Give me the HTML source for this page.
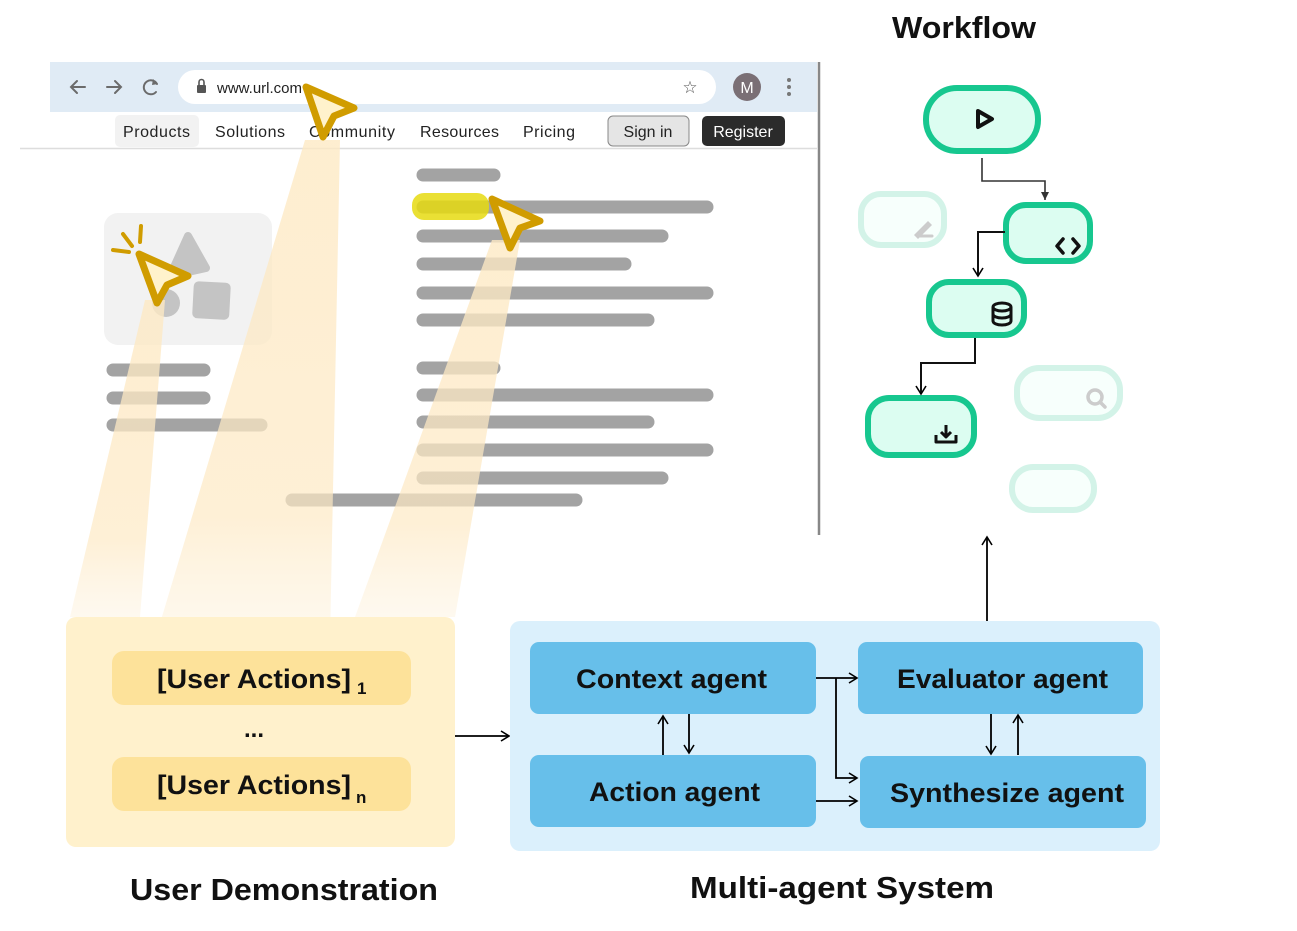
<!DOCTYPE html>
<html><head><meta charset="utf-8"><style>
html,body{margin:0;padding:0;background:#fff;}
svg{display:block;font-family:"Liberation Sans",sans-serif;}
</style></head><body>
<svg width="1297" height="931" viewBox="0 0 1297 931" xmlns="http://www.w3.org/2000/svg">
<defs>
<linearGradient id="beam" x1="0" y1="0" x2="0" y2="1">
<stop offset="0" stop-color="#fde9c4" stop-opacity="0.8"/>
<stop offset="0.75" stop-color="#fde9c4" stop-opacity="0.7"/>
<stop offset="1" stop-color="#fdf0d8" stop-opacity="0.4"/>
</linearGradient>
<marker id="ah" markerWidth="12" markerHeight="12" refX="10" refY="6" orient="auto" markerUnits="userSpaceOnUse">
<path d="M2,1 L10,6 L2,11" fill="none" stroke="#000" stroke-width="1.6"/>
</marker>
<marker id="ah2" markerWidth="10" markerHeight="10" refX="8" refY="5" orient="auto" markerUnits="userSpaceOnUse">
<path d="M0,1 L8,5 L0,9 Z" fill="#333"/>
</marker>
</defs>

<!-- browser -->
<rect x="50" y="62" width="767" height="50" fill="#e0ebf5"/>
<rect x="178" y="70" width="538" height="34" rx="17" fill="#fff"/>
<g stroke="#6b6b6b" stroke-width="2" fill="none" stroke-linecap="round">
<path d="M85,87 H71 M77,81 L71,87 L77,93"/>
<path d="M107,87 H121 M115,81 L121,87 L115,93"/>
<path d="M157,84 A7,7 0 1 0 156,92"/>
</g>
<path d="M153,79 L158,84 L152,85 Z" fill="#6b6b6b"/>
<rect x="197" y="85" width="9" height="8" rx="1" fill="#555"/>
<path d="M199,85 V82 A2.5,2.5 0 0 1 204,82 V85" stroke="#555" stroke-width="1.6" fill="none"/>
<text x="217" y="93" font-size="15" fill="#222">www.url.com</text>
<text x="690" y="93" font-size="17" fill="#555" text-anchor="middle">☆</text>
<circle cx="747" cy="87" r="14" fill="#7a6f75"/>
<text x="747" y="93" font-size="16" fill="#fff" text-anchor="middle">M</text>
<g fill="#777"><circle cx="789" cy="80" r="2"/><circle cx="789" cy="87" r="2"/><circle cx="789" cy="94" r="2"/></g>
<rect x="115" y="115" width="84" height="32" rx="5" fill="#f2f2f2"/>
<g font-size="16" fill="#222">
<text x="123" y="137" textLength="67">Products</text>
<text x="215" y="137" textLength="70">Solutions</text>
<text x="309" y="137" textLength="86">Community</text>
<text x="420" y="137" textLength="79">Resources</text>
<text x="523" y="137" textLength="52">Pricing</text>
</g>
<rect x="608" y="116" width="81" height="30" rx="5" fill="#e5e5e5" stroke="#888" stroke-width="1"/>
<text x="648" y="137" font-size="16" fill="#222" text-anchor="middle">Sign in</text>
<rect x="702" y="116" width="83" height="30" rx="5" fill="#2b2b2b"/>
<text x="743" y="137" font-size="16" fill="#fff" text-anchor="middle">Register</text>
<line x1="20" y1="148.5" x2="817" y2="148.5" stroke="#ddd" stroke-width="1.5"/>
<line x1="819" y1="62" x2="819" y2="535" stroke="#888" stroke-width="2.5"/>

<!-- image card -->
<rect x="104" y="213" width="168" height="132" rx="14" fill="#f2f2f2"/>
<path d="M188,236 L170,276 L206,268 Z" fill="#c4c4c4" stroke="#c4c4c4" stroke-width="8" stroke-linejoin="round"/>
<rect x="193" y="282" width="37" height="37" rx="5" fill="#c4c4c4" transform="rotate(3 211 300)"/>
<circle cx="166" cy="303" r="14" fill="#c4c4c4"/>

<!-- gray bars -->
<g stroke="#a3a3a3" stroke-width="13" stroke-linecap="round">
<line x1="423" y1="175" x2="494" y2="175"/>
<line x1="423" y1="207" x2="707" y2="207"/>
<line x1="423" y1="236" x2="662" y2="236"/>
<line x1="423" y1="264" x2="625" y2="264"/>
<line x1="423" y1="293" x2="707" y2="293"/>
<line x1="423" y1="320" x2="648" y2="320"/>
<line x1="423" y1="368" x2="494" y2="368"/>
<line x1="423" y1="395" x2="707" y2="395"/>
<line x1="423" y1="422" x2="648" y2="422"/>
<line x1="423" y1="450" x2="707" y2="450"/>
<line x1="423" y1="478" x2="662" y2="478"/>
<line x1="292" y1="500" x2="576" y2="500"/>
<line x1="113" y1="370" x2="204" y2="370"/>
<line x1="113" y1="398" x2="204" y2="398"/>
<line x1="113" y1="425" x2="261" y2="425"/>
</g>
<rect x="412" y="193" width="77" height="27" rx="12" fill="#e6da10" opacity="0.85"/>

<!-- beams -->
<path d="M305,140 L340,140 L330,640 L155,640 Z" fill="url(#beam)"/>
<path d="M145,300 L165,300 L140,617 L70,617 Z" fill="url(#beam)"/>
<path d="M492,240 L520,240 L455,617 L355,617 Z" fill="url(#beam)"/>

<!-- cursors -->
<g fill="#fff2cc" stroke="#d09c00" stroke-width="7" stroke-linejoin="round">
<path d="M306,87 L354,108 L334,116 L323,137 Z"/>
<path d="M139,254 L188,276 L167,285 L157,303 Z"/>
<path d="M492,199 L540,221 L520,228 L510,248 Z"/>
</g>
<g stroke="#d09c00" stroke-width="4" stroke-linecap="round">
<line x1="141" y1="226" x2="140" y2="242"/>
<line x1="123" y1="234" x2="132" y2="246"/>
<line x1="113" y1="250" x2="129" y2="252"/>
</g>

<!-- demonstration -->
<rect x="66" y="617" width="389" height="230" rx="10" fill="#fff1cc"/>
<rect x="112" y="651" width="299" height="54" rx="12" fill="#fde29a"/>
<rect x="112" y="757" width="299" height="54" rx="12" fill="#fde29a"/>
<g font-size="27" fill="#111" font-weight="600">
<text x="157" y="688" textLength="194" lengthAdjust="spacingAndGlyphs">[User Actions]</text>
<text x="157" y="794" textLength="194" lengthAdjust="spacingAndGlyphs">[User Actions]</text>
</g>
<text x="357" y="694" font-size="17" font-weight="700" fill="#111">1</text>
<text x="356" y="803" font-size="17" font-weight="700" fill="#111">n</text>
<text x="254" y="737" font-size="24" font-weight="700" fill="#111" text-anchor="middle">...</text>
<text x="130" y="900" font-size="31" font-weight="600" fill="#111" textLength="308" lengthAdjust="spacingAndGlyphs">User Demonstration</text>

<line x1="455" y1="736" x2="509" y2="736" stroke="#000" stroke-width="1.8" marker-end="url(#ah)"/>

<!-- MAS -->
<rect x="510" y="621" width="650" height="230" rx="10" fill="#dbf0fc"/>
<g fill="#67bfea">
<rect x="530" y="642" width="286" height="72" rx="9"/>
<rect x="530" y="755" width="286" height="72" rx="9"/>
<rect x="858" y="642" width="285" height="72" rx="9"/>
<rect x="860" y="756" width="286" height="72" rx="9"/>
</g>
<g font-size="27" font-weight="600" fill="#111" lengthAdjust="spacingAndGlyphs">
<text x="576" y="688" textLength="191" lengthAdjust="spacingAndGlyphs">Context agent</text>
<text x="589" y="801" textLength="171" lengthAdjust="spacingAndGlyphs">Action agent</text>
<text x="897" y="688" textLength="211" lengthAdjust="spacingAndGlyphs">Evaluator agent</text>
<text x="890" y="802" textLength="234" lengthAdjust="spacingAndGlyphs">Synthesize agent</text>
</g>
<g stroke="#000" stroke-width="1.8" fill="none">
<line x1="816" y1="678" x2="857" y2="678" marker-end="url(#ah)"/>
<path d="M836,678 V778 H857" marker-end="url(#ah)"/>
<line x1="816" y1="801" x2="857" y2="801" marker-end="url(#ah)"/>
<line x1="663" y1="755" x2="663" y2="716" marker-end="url(#ah)"/>
<line x1="689" y1="714" x2="689" y2="753" marker-end="url(#ah)"/>
<line x1="991" y1="714" x2="991" y2="754" marker-end="url(#ah)"/>
<line x1="1018" y1="755" x2="1018" y2="715" marker-end="url(#ah)"/>
<line x1="987" y1="621" x2="987" y2="537" marker-end="url(#ah)"/>
</g>
<text x="690" y="898" font-size="31" font-weight="600" fill="#111" textLength="304" lengthAdjust="spacingAndGlyphs">Multi-agent System</text>

<!-- workflow -->
<text x="892" y="38" font-size="31" font-weight="700" fill="#111" textLength="144" lengthAdjust="spacingAndGlyphs">Workflow</text>
<g fill="#f7fffc" stroke="#d3f3e8" stroke-width="6">
<rect x="861" y="194" width="83" height="51" rx="20"/>
<rect x="1017" y="368" width="103" height="50" rx="22"/>
<rect x="1012" y="467" width="82" height="43" rx="21"/>
</g>
<path d="M914,235 L928,221 L932,225 L918,239 Z" fill="#ccc"/>
<line x1="920" y1="236" x2="932" y2="236" stroke="#ccc" stroke-width="3" stroke-linecap="round"/>
<circle cx="1095" cy="397" r="7" fill="none" stroke="#ccc" stroke-width="3.5"/>
<line x1="1100" y1="402" x2="1105" y2="407" stroke="#ccc" stroke-width="3.5" stroke-linecap="round"/>
<g fill="#dcfdf1" stroke="#17c78f" stroke-width="6">
<rect x="926" y="88" width="112" height="63" rx="31"/>
<rect x="1006" y="205" width="84" height="56" rx="20"/>
<rect x="929" y="282" width="95" height="53" rx="20"/>
<rect x="868" y="398" width="106" height="57" rx="21"/>
</g>
<path d="M978,111 L992,119 L978,127 Z" fill="none" stroke="#111" stroke-width="4" stroke-linejoin="round"/>
<path d="M1063,239 L1057,246 L1063,253 M1073,239 L1079,246 L1073,253" fill="none" stroke="#111" stroke-width="3.5" stroke-linecap="round" stroke-linejoin="round"/>
<g fill="none" stroke="#111" stroke-width="3">
<ellipse cx="1002" cy="307" rx="9" ry="4"/>
<path d="M993,307 V321 A9,4 0 0 0 1011,321 V307 M993,314 A9,4 0 0 0 1011,314"/>
</g>
<path d="M936,435 V442 H956 V435 M946,425 V437 M941,432 L946,437 L951,432" fill="none" stroke="#111" stroke-width="3" stroke-linejoin="round"/>
<g stroke="#333" stroke-width="1.6" fill="none">
<path d="M982,158 V181 H1045 V200" marker-end="url(#ah2)"/>
</g>
<g stroke="#111" stroke-width="2" fill="none">
<path d="M1005,232 H978 V276" marker-end="url(#ah)"/>
<path d="M975,338 V363 H921 V394" marker-end="url(#ah)"/>
</g>
</svg>
</body></html>
